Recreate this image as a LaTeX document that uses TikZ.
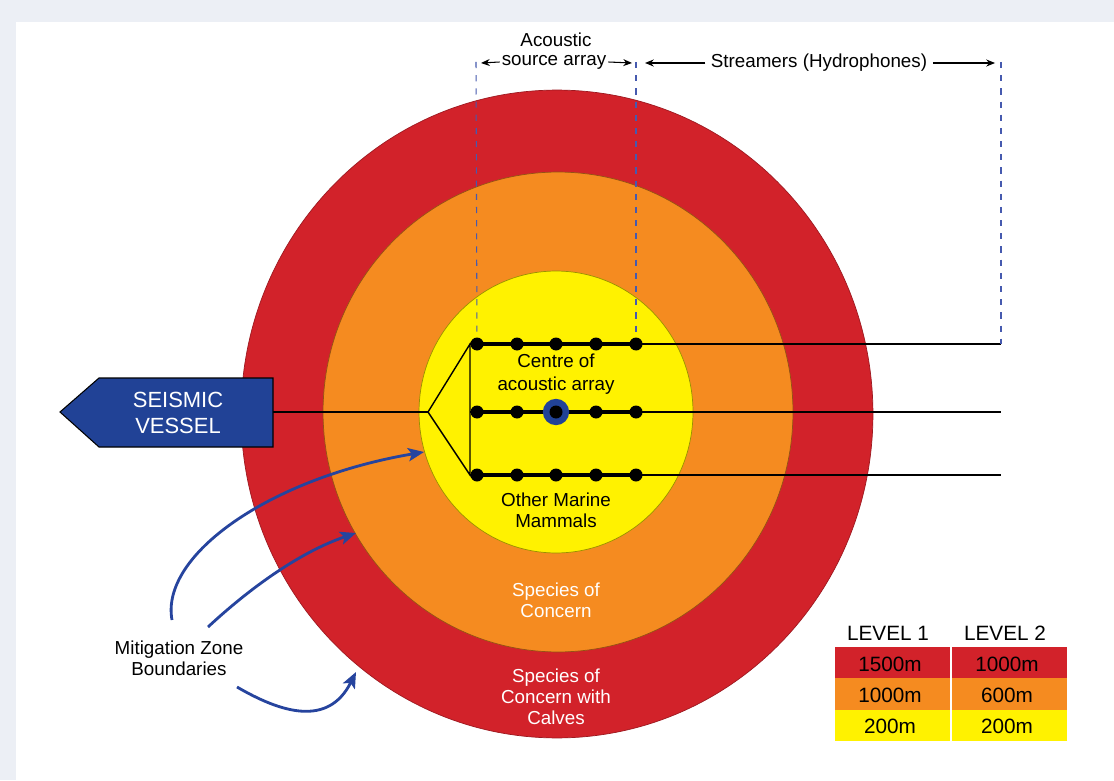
\documentclass[tikz,border=0pt]{standalone}
\usepackage{fontspec}
\setmainfont{Liberation Sans}
\usetikzlibrary{arrows.meta}

\definecolor{zonered}{RGB}{210,34,42}
\definecolor{zoneorange}{RGB}{245,139,32}
\definecolor{zoneyellow}{RGB}{255,242,0}
\definecolor{vesselblue}{RGB}{33,66,150}
\definecolor{arrowblue}{RGB}{38,68,158}
\definecolor{dashblue}{RGB}{70,90,175}
\definecolor{bgtint}{RGB}{236,239,245}

\begin{document}
\begin{tikzpicture}
		[x=0.02cm, y=-0.02cm,
		txt/.style={font=\fontsize{10.7}{11.8}\selectfont, align=center, inner sep=0pt},
		wtxt/.style={txt, text=white},
		legtxt/.style={font=\fontsize{11.8}{13}\selectfont, inner sep=0pt},
		dashline/.style={dashblue, line width=0.6pt, dash pattern=on 3.5pt off 4pt},
		dimarrow/.style={-{Stealth[length=5pt,width=4pt]}, line width=0.6pt},
		mzarrow/.style={-{Stealth[length=9pt,width=7.5pt,inset=2pt]}, arrowblue, line width=1.6pt},
		streamer/.style={line width=2pt},
		tow/.style={line width=0.8pt},
		dot/.style={circle, fill=black, inner sep=0pt, minimum size=7.4pt},
		centredot/.style={circle, fill=vesselblue, inner sep=0pt, minimum size=15pt}]
		
		\useasboundingbox (0,0) rectangle (1114,780);
		\fill[bgtint] (0,0) rectangle (1114,780);
		\fill[white] (16,22) rectangle (1114,780);
		
		% zones
		\filldraw[fill=zonered, draw=zonered!75!black, line width=0.4pt] (557,414) ellipse [x radius=6.32cm, y radius=6.48cm];
		\filldraw[fill=zoneorange, draw=zoneorange!60!black, line width=0.4pt] (558,412) ellipse [x radius=4.7cm, y radius=4.8cm];
		\filldraw[fill=zoneyellow, draw=zoneyellow!60!black, line width=0.4pt] (556,412) ellipse [x radius=2.74cm, y radius=2.82cm];
		
		% array of sources
		\foreach \r/\y in {1/344, 2/412, 3/475} {
			\foreach \c/\x in {1/477, 2/517, 3/556, 4/596, 5/636}
				\node[dot] (s\r-\c) at (\x,\y) {};
			\coordinate (e\r) at (1001,\y);
			\draw[streamer] (s\r-1.center) -- (s\r-5.center);
			\draw[tow] (s\r-5.center) -- (e\r);
		}
		\node[centredot] (cen) at (556,412) {};
		\node[dot] at (cen) {};
		
		\coordinate (fork) at (428,412);
		\coordinate (spineT) at (470,344);
		\coordinate (spineM) at (470,412);
		\coordinate (spineB) at (470,475);
		\draw[tow] (fork) -- (spineT) -- (spineB) -- (fork);
		\draw[tow] (spineT) -- (s1-1.center);
		\draw[tow] (spineM) -- (s2-1.center);
		\draw[tow] (spineB) -- (s3-1.center);
		
		% vessel
		\draw[fill=vesselblue, line width=0.6pt] (60,412) -- (99,378) -- (273,378) -- (273,447) -- (99,447) -- cycle;
		\node[wtxt, font=\fontsize{12.5}{14.8}\selectfont] (vessel) at (178,413) {SEISMIC\\VESSEL};
		\coordinate (stern) at (273,412);
		\draw[tow] (stern) -- (fork);
		
		% dimension marks on top
		\coordinate (d1) at (476,62);
		\coordinate (d2) at (636,62);
		\coordinate (d3) at (1001,62);
		\draw[dashline] (d1) -- (s1-1);
		\draw[dashline] (d2) -- (s1-5);
		\draw[dashline] (d3) -- (e1);
		
		\node[txt] (acou) at (556,40) {Acoustic};
		\node[txt, inner xsep=1pt] (srclbl) at (554,62) {source array};
		\node[txt, inner xsep=3pt] (strmlbl) at (819,63) {Streamers (Hydrophones)};
		\coordinate (a1) at (481,63);
		\coordinate (a2) at (632,63);
		\coordinate (a3) at (645,63);
		\coordinate (a4) at (995,63);
		\draw[dimarrow] (srclbl.west) -- (a1);
		\draw[dimarrow] (srclbl.east) -- (a2);
		\draw[dimarrow] (strmlbl.west) -- (a3);
		\draw[dimarrow] (strmlbl.east) -- (a4);
		
		% zone labels
		\node[txt] (cenlbl) at (556,374) {Centre of\\[1pt]acoustic array};
		\node[txt] (othlbl) at (556,510) {Other Marine\\Mammals};
		\node[wtxt] (soclbl) at (556,600) {Species of\\Concern};
		\node[wtxt] (calflbl) at (556,697) {Species of\\Concern with\\Calves};
		
		% mitigation zone boundaries
		\node[txt] (mz) at (179,658) {Mitigation Zone\\Boundaries};
		\coordinate (m1) at (172,620);
		\coordinate (m2) at (208,627);
		\coordinate (m3) at (237,687);
		\coordinate (b1) at (424,452);
		\coordinate (b2) at (356,533);
		\coordinate (b3) at (356,672);
		\draw[mzarrow] (m1) .. controls (160,555) and (270,478) .. (b1);
		\draw[mzarrow] (m2) .. controls (250,588) and (300,552) .. (b2);
		\draw[mzarrow] (m3) .. controls (280,712) and (328,728) .. (b3);
		
		% legend
		\fill[zonered] (835,647) rectangle (1067,678);
		\fill[zoneorange] (835,678) rectangle (1067,710);
		\fill[zoneyellow] (835,710) rectangle (1067,741);
		\draw[white, line width=0.8pt] (951,647) -- (951,741);
		\node[legtxt] (lv1) at (888,633) {LEVEL 1};
		\node[legtxt] (lv2) at (1005,633) {LEVEL 2};
		\node[legtxt] (r1a) at (890,664) {1500m};
		\node[legtxt] (r1b) at (1007,664) {1000m};
		\node[legtxt] (r2a) at (890,695) {1000m};
		\node[legtxt] (r2b) at (1007,695) {600m};
		\node[legtxt] (r3a) at (890,726) {200m};
		\node[legtxt] (r3b) at (1007,726) {200m};
		
		\end{tikzpicture}
\end{document}
